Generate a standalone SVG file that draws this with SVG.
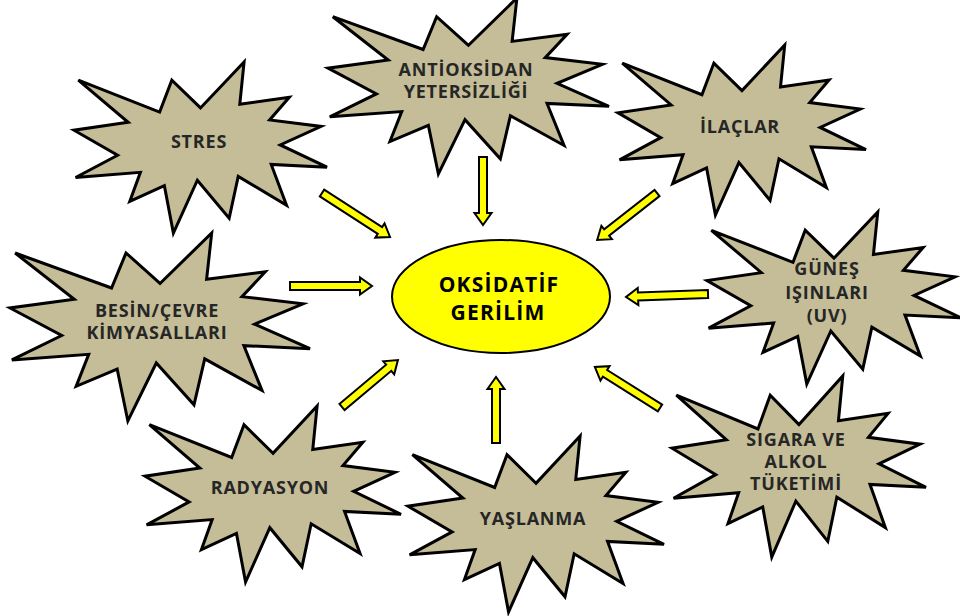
<svg xmlns="http://www.w3.org/2000/svg" xmlns:xlink="http://www.w3.org/1999/xlink" width="960" height="616" viewBox="0 0 960 616">
<style>
.seal{fill:#c4bd97;stroke:#000;stroke-width:3;stroke-linejoin:miter;vector-effect:non-scaling-stroke}
.lbl{font-family:"Open Sans","Liberation Sans",sans-serif;font-weight:700;font-size:18px;fill:#262626;text-anchor:middle;letter-spacing:0.8px}
.ctr{font-family:"Open Sans","Liberation Sans",sans-serif;font-weight:700;font-size:21px;fill:#000;text-anchor:middle;letter-spacing:1.2px}
.arr{fill:#ffff00;stroke:#000;stroke-width:2;stroke-linejoin:miter}
</style>
<defs>
<path id="sealp" class="seal" d="M10800,5800 L8352,2295 L7312,6320 L370,2295 L4627,7617 L0,8615 L3722,11775 L135,14587 L5667,13937 L4762,17617 L7715,15627 L8485,21600 L10532,14935 L13247,19737 L14020,14457 L18145,18095 L16837,12942 L21600,13290 L17607,10475 L21097,8137 L16702,7315 L18380,4457 L14155,5325 L14522,0 Z"/>
</defs>
<rect width="960" height="616" fill="#fff"/>
<g id="connectors">
<path class="arr" transform="translate(322,193) rotate(32.9)" d="M0,-4 H69 V-8.5 L81,0 L69,8.5 V4 H0 Z"/>
<path class="arr" transform="translate(483,157) rotate(90)" d="M0,-4 H56 V-8.5 L68,0 L56,8.5 V4 H0 Z"/>
<path class="arr" transform="translate(657,193) rotate(141.9)" d="M0,-4 H64 V-8.5 L76,0 L64,8.5 V4 H0 Z"/>
<path class="arr" transform="translate(290,286) rotate(0)" d="M0,-4 H70 V-8.5 L82,0 L70,8.5 V4 H0 Z"/>
<path class="arr" transform="translate(708,294) rotate(177.9)" d="M0,-4 H70 V-8.5 L82,0 L70,8.5 V4 H0 Z"/>
<path class="arr" transform="translate(342,407) rotate(-40)" d="M0,-4 H61 V-8.5 L73,0 L61,8.5 V4 H0 Z"/>
<path class="arr" transform="translate(496,443) rotate(-90)" d="M0,-4 H54 V-8.5 L66,0 L54,8.5 V4 H0 Z"/>
<path class="arr" transform="translate(660,408) rotate(212.2)" d="M0,-4 H65 V-8.5 L77,0 L65,8.5 V4 H0 Z"/>
</g>
<g id="antioksidan">
<use xlink:href="#sealp" transform="translate(328,-2) scale(0.013009,0.0081481)"/>
<text class="lbl" x="466" y="76">ANTİOKSİDAN</text>
<text class="lbl" x="466" y="98">YETERSİZLİĞİ</text>
</g>
<g id="stres">
<use xlink:href="#sealp" transform="translate(74,62) scale(0.011713,0.0079167)"/>
<text class="lbl" x="199" y="148">STRES</text>
</g>
<g id="ilaclar">
<use xlink:href="#sealp" transform="translate(618,45) scale(0.011481,0.0078704)"/>
<text class="lbl" x="740" y="133">İLAÇLAR</text>
</g>
<g id="besin">
<use xlink:href="#sealp" transform="translate(10,233) scale(0.013889,0.0087037)"/>
<text class="lbl" x="157" y="317">BESİN/ÇEVRE</text>
<text class="lbl" x="157" y="339">KİMYASALLARI</text>
</g>
<g id="gunes">
<use xlink:href="#sealp" transform="translate(707,212) scale(0.011759,0.007963)"/>
<text class="lbl" x="827" y="275">GÜNEŞ</text>
<text class="lbl" x="827" y="299">IŞINLARI</text>
<text class="lbl" x="827" y="322">(UV)</text>
</g>
<g id="radyasyon">
<use xlink:href="#sealp" transform="translate(145,406) scale(0.011852,0.0081481)"/>
<text class="lbl" x="270" y="494">RADYASYON</text>
</g>
<g id="yaslanma">
<use xlink:href="#sealp" transform="translate(408,436) scale(0.011852,0.0081481)"/>
<text class="lbl" x="533" y="525">YAŞLANMA</text>
</g>
<g id="sigara">
<use xlink:href="#sealp" transform="translate(672,376) scale(0.011759,0.0083796)"/>
<text class="lbl" x="796" y="446">SIGARA VE</text>
<text class="lbl" x="796" y="468">ALKOL</text>
<text class="lbl" x="796" y="490">TÜKETİMİ</text>
</g>
<g id="oksidatif">
<ellipse cx="501" cy="296.5" rx="109" ry="56.5" fill="#ffff00" stroke="#000" stroke-width="2"/>
<text class="ctr" x="499" y="292">OKSİDATİF</text>
<text class="ctr" x="498" y="320">GERİLİM</text>
</g>
</svg>
